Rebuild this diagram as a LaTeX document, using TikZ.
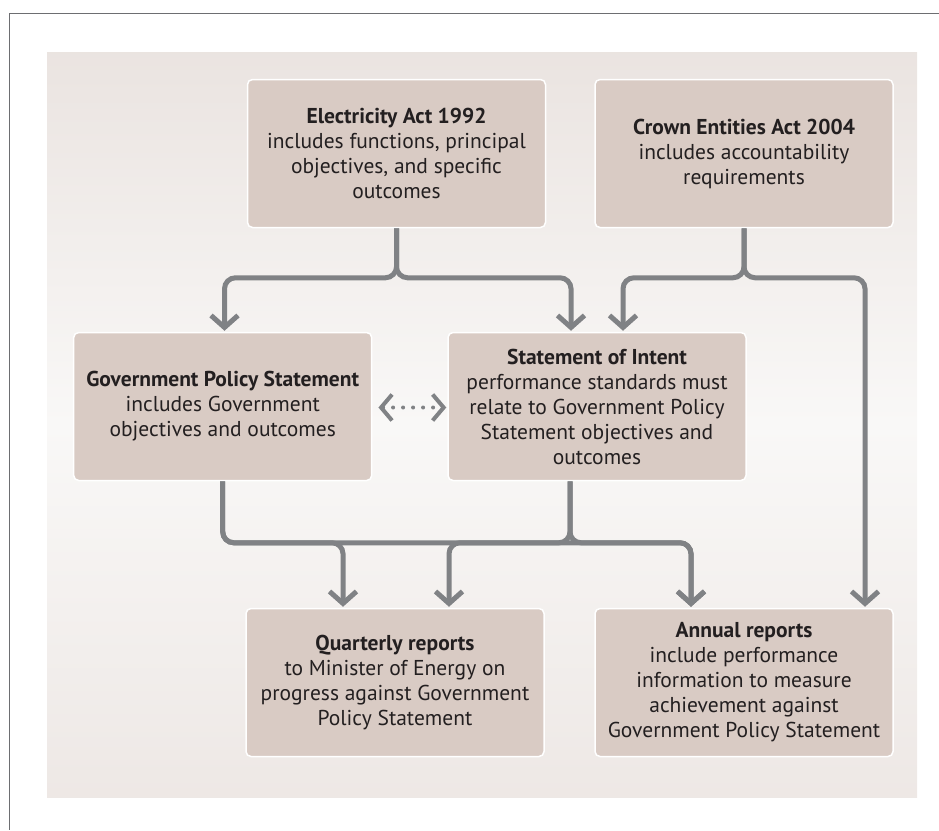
\documentclass[tikz,border=0pt]{standalone}
\usepackage{fontspec}
\setmainfont{PT Sans}
\usetikzlibrary{arrows.meta,calc}

\definecolor{boxfill}{HTML}{D9CBC4}
\definecolor{flowgray}{HTML}{808285}
\definecolor{inktext}{HTML}{231F20}
\definecolor{bgwarm}{HTML}{D9CCC6}
\definecolor{bgpale}{HTML}{F9F8F7}
\definecolor{bgwarm2}{HTML}{E0D5D0}
\definecolor{framegray}{HTML}{6D6E71}

\begin{document}
\begin{tikzpicture}[x=1pt,y=-1pt,
  infobox/.style={draw=white, line width=1.5pt, fill=boxfill, rounded corners=5pt,
    minimum width=298pt, minimum height=148pt, align=center, text=inktext,
    font=\fontsize{21.5}{25}\selectfont, inner sep=0pt},
  flow/.style={draw=flowgray, line width=5pt, rounded corners=11pt,
    -{Straight Barb[length=12pt,width=27pt]}, shorten >=1pt},
  dotlink/.style={draw=flowgray, line width=4pt, line cap=round,
    dash pattern=on 0pt off 10pt,
    {Straight Barb[length=11pt,width=26pt]}-{Straight Barb[length=11pt,width=26pt]}}
]
\useasboundingbox (0,0) rectangle (939,830);

% page frame (top and left rules)
\draw[framegray, line width=1.2pt] (939,13.5) -- (9.5,13.5) -- (9.5,830);

% shaded panel: warm corners top-left and bottom-right, pale diagonal band
\begin{scope}[y=1pt]
  \clip (47,-52) rectangle (917,-797);
  \shade[rotate around={45:(482,-424.5)}, top color=bgwarm, bottom color=bgwarm2,
    middle color=bgpale]
    (482-572,-424.5-572) rectangle (482+572,-424.5+572);
\end{scope}

% boxes
\node[infobox] (elec) at (396.5,153.5)
  {\textbf{Electricity Act 1992}\\includes functions, principal\\objectives, and specific\\outcomes};
\node[infobox] (crown) at (744,153.5)
  {\textbf{Crown Entities Act 2004}\\includes accountability\\requirements};
\node[infobox] (gps) at (222.7,406.5)
  {\textbf{Government Policy Statement}\\includes Government\\objectives and outcomes};
\node[infobox] (soi) at (597,406.5)
  {\textbf{Statement of Intent}\\performance standards must\\relate to Government Policy\\Statement objectives and\\outcomes};
\node[infobox] (qtr) at (395,682.5)
  {\textbf{Quarterly reports}\\to Minister of Energy on\\progress against Government\\Policy Statement};
\node[infobox] (ann) at (744,682.5)
  {\textbf{Annual reports}\\include performance\\information to measure\\achievement against\\Government Policy Statement};

% connectors from the two Acts
\draw[flow] (elec.south) -- ++(0,49.5) -| ($(gps.north)+(1.8,0)$);
\draw[flow] (elec.south) -- ++(0,49.5) -| ($(soi.north)+(-26,0)$);
\draw[flow] (crown.south) -- ++(0,49.5) -| ($(soi.north)+(26,0)$);
\draw[flow] (crown.south) -- ++(0,49.5) -| ($(ann.north)+(121,0)$);

% connectors to the reports
\draw[flow] (gps.south) -- ++(0,61.5) -| ($(qtr.north)+(-52,0)$);
\draw[flow] (gps.south) -- ++(0,61.5) -| ($(ann.north)+(-53,0)$);
\draw[flow] ($(soi.south)+(-27,0)$) -- ++(0,61.5) -| ($(qtr.north)+(54,0)$);
\draw[flow] ($(soi.south)+(-27,0)$) -- ++(0,61.5) -| ($(ann.north)+(-53,0)$);

% two-way dotted link
\draw[dotlink, shorten <=6pt, shorten >=1pt] ($(gps.east)+(0,1)$) -- ($(soi.west)+(0,1)$);
\end{tikzpicture}
\end{document}
